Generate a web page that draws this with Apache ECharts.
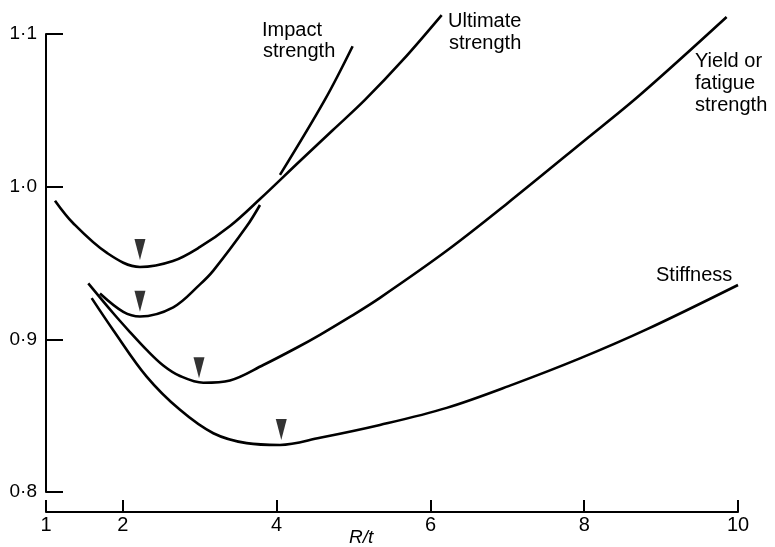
<!DOCTYPE html>
<html>
<head>
<meta charset="utf-8">
<script src="https://cdn.jsdelivr.net/npm/echarts@6/dist/echarts.min.js"></script>
<style>
html,body{margin:0;padding:0;background:#fff;}
#chart{width:775px;height:547px;}
</style>
</head>
<body>
<div id="chart"></div>
<script>
// x ticks (R/t) and y ticks
var xTicks = [1, 2, 4, 6, 8, 10];
var yTicks = [0.8, 0.9, 1.0, 1.1];

// Ultimate strength
var ultimateX = [1.117, 1.351, 1.793, 2.222, 2.651, 3.003, 3.393, 3.783, 4.303, 4.732, 5.148, 5.642, 6.146];
var ultimateY = [0.9908, 0.9762, 0.9566, 0.9474, 0.9513, 0.9605, 0.9742, 0.9919, 1.0168, 1.0371, 1.0568, 1.083, 1.1124];

// Impact strength (lower part, then upper part after crossing)
var impactLowX = [1.702, 2.005, 2.222, 2.655, 3.003, 3.176, 3.61, 3.783];
var impactLowY = [0.930, 0.918, 0.915, 0.921, 0.936, 0.945, 0.974, 0.988];
var impactHighX = [4.043, 4.628, 4.988];
var impactHighY = [1.0077, 1.057, 1.092];

// Yield or fatigue strength
var yieldX = [1.55, 1.875, 2.092, 2.309, 2.525, 2.743, 3.046, 3.393, 3.826, 4.26, 4.563, 4.953, 5.343, 6.211, 6.991, 7.996, 8.724, 9.852];
var yieldY = [0.9367, 0.9171, 0.9048, 0.8931, 0.8829, 0.876, 0.8716, 0.8731, 0.8832, 0.8945, 0.903, 0.9147, 0.9272, 0.958, 0.9887, 1.0299, 1.060, 1.1111];

// Stiffness
var stiffX = [1.594, 1.875, 2.309, 2.743, 3.176, 3.61, 4.043, 4.563, 5.343, 6.211, 7.077, 7.944, 8.811, 10.0];
var stiffY = [0.927, 0.906, 0.8756, 0.8538, 0.8385, 0.832, 0.8308, 0.8355, 0.8439, 0.8551, 0.8705, 0.8875, 0.9065, 0.9356];

// Minimum markers (arrow tips)
var minX = [2.222, 2.222, 2.99, 4.06];
var minY = [0.952, 0.918, 0.8745, 0.834];

function zip(xs, ys) { return xs.map(function (x, i) { return [x, ys[i]]; }); }

var INK = '#000';
var FONT = '"Liberation Sans", Arial, Helvetica, sans-serif';

function lineSeries(name, xs, ys) {
  return {
    name: name, type: 'line', data: zip(xs, ys), smooth: 0.35, clip: false,
    showSymbol: false, symbol: 'none',
    lineStyle: { color: INK, width: 2.6 }, silent: true, z: 3
  };
}

var chart = echarts.init(document.getElementById('chart'), null, { renderer: 'canvas' });
chart.setOption({
  backgroundColor: '#fff',
  animation: false,
  grid: { left: 46, right: 37, top: 34, bottom: 55, containLabel: false },
  xAxis: {
    type: 'value', min: 1, max: 10, offset: 20,
    axisLine: { show: true, lineStyle: { color: INK, width: 2 } },
    axisTick: { show: true, inside: true, length: 12, lineStyle: { color: INK, width: 2 }, customValues: xTicks },
    axisLabel: { color: INK, fontSize: 20, fontFamily: FONT, margin: 3, customValues: xTicks },
    splitLine: { show: false }
  },
  yAxis: {
    type: 'value', min: 0.8, max: 1.1, interval: 0.1,
    axisLine: { show: true, lineStyle: { color: INK, width: 2 } },
    axisTick: { show: true, inside: true, length: 17, lineStyle: { color: INK, width: 2 } },
    axisLabel: {
      color: INK, fontSize: 19, fontFamily: FONT, margin: 9,
      formatter: function (v) { return v.toFixed(1).replace('.', '\u00B7'); }
    },
    splitLine: { show: false }
  },
  series: [
    lineSeries('Ultimate strength', ultimateX, ultimateY),
    lineSeries('Impact strength', impactLowX, impactLowY),
    lineSeries('Impact strength (upper)', impactHighX, impactHighY),
    lineSeries('Yield or fatigue strength', yieldX, yieldY),
    lineSeries('Stiffness', stiffX, stiffY),
    {
      name: 'Minimum', type: 'scatter', data: zip(minX, minY), clip: false,
      symbol: 'triangle', symbolRotate: 180, symbolSize: [11, 21], symbolOffset: [0, -10.5],
      itemStyle: { color: INK }, silent: true, z: 4
    }
  ],
  graphic: [
    { type: 'text', left: 262, top: 20, style: { text: 'Impact', font: '20px ' + FONT, fill: INK } },
    { type: 'text', left: 263, top: 41, style: { text: 'strength', font: '20px ' + FONT, fill: INK } },
    { type: 'text', left: 448, top: 11, style: { text: 'Ultimate', font: '20px ' + FONT, fill: INK } },
    { type: 'text', left: 449, top: 33, style: { text: 'strength', font: '20px ' + FONT, fill: INK } },
    { type: 'text', left: 695, top: 51, style: { text: 'Yield or', font: '20px ' + FONT, fill: INK } },
    { type: 'text', left: 695, top: 73, style: { text: 'fatigue', font: '20px ' + FONT, fill: INK } },
    { type: 'text', left: 695, top: 95, style: { text: 'strength', font: '20px ' + FONT, fill: INK } },
    { type: 'text', left: 656, top: 265, style: { text: 'Stiffness', font: '20px ' + FONT, fill: INK } },
    { type: 'text', left: 349, top: 528, style: { text: 'R/t', font: 'italic 19px ' + FONT, fill: INK } }
  ]
});
</script>
</body>
</html>
